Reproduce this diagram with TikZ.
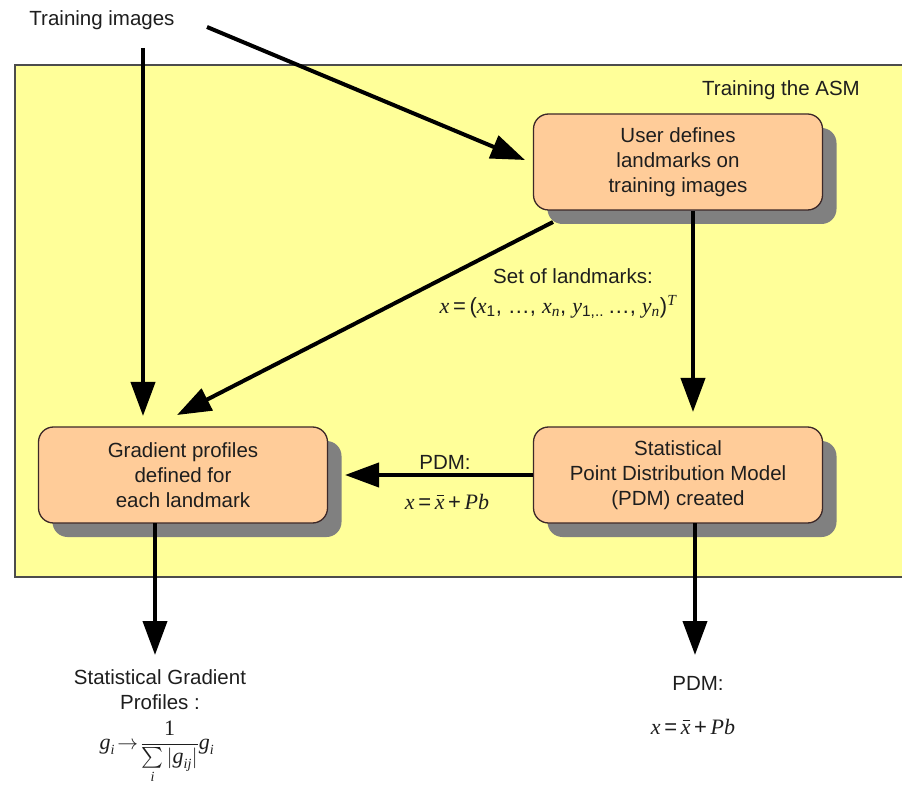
\documentclass[tikz,border=0pt]{standalone}
\usepackage{exscale}
\usepackage{fontspec}
\setmainfont{Liberation Sans}
\newfontfamily\mathserif{Liberation Serif}
\usetikzlibrary{arrows.meta,shadows}
\definecolor{panel}{RGB}{255,255,153}
\definecolor{peach}{RGB}{255,204,153}
\definecolor{shadowgray}{RGB}{128,128,128}
\definecolor{boxline}{RGB}{60,40,40}
\definecolor{ink}{RGB}{30,30,30}
\newcommand\mi[1]{{\mathserif\itshape #1}}
\newcommand\msub[1]{\mbox{\fontsize{14}{14}\selectfont\mi{#1}}}
% italic x with a bar drawn as a rule
\newcommand\meanx{\makebox[0pt][l]{\raisebox{0.6em}{\hspace{0.08em}\rule{0.36em}{0.05em}}}\mi{x}}
\begin{document}
\begin{tikzpicture}[x=1pt,y=-1pt,
  every node/.style={text=ink, font=\fontsize{20.5}{25}\selectfont},
  stepbox/.style={draw=boxline, line width=1.3pt, fill=peach, rounded corners=15pt,
    minimum width=289pt, minimum height=96pt, align=center, inner sep=0pt,
    drop shadow={shadow xshift=14pt, shadow yshift=-14pt, fill=shadowgray, opacity=1}},
  flow/.style={line width=4pt, -{Triangle[length=34pt,width=24pt]}},
  lbl/.style={align=center, inner sep=0pt},
  formula/.style={inner sep=0pt, font=\fontsize{22}{26}\selectfont}]
\useasboundingbox (0,0) rectangle (902,791);
\fill[white] (0,0) rectangle (902,791);

% training panel
\fill[panel] (15,65) rectangle (902,577);
\draw[line width=1.3pt, draw=black!70] (902,65) -- (15,65) -- (15,577) -- (902,577);
\node[lbl, anchor=east] (panelname) at (860,90) {Training the ASM};

% process boxes
\node[stepbox] (define) at (678,162) {User defines\\landmarks on\\training images};
\node[stepbox] (profiles) at (183,475) {Gradient profiles\\defined for\\each landmark};
\node[stepbox] (pdm) at (678,475) {Statistical\\Point Distribution Model\\(PDM) created};

% input label and free ends of connectors
\node[lbl] (images) at (102,20) {Training images};
\coordinate (imgdown) at (143,48);
\coordinate (imgright) at (207,27);
\coordinate (tipdefine) at (525,160);
\coordinate (tipprofiles) at (143,416);
\coordinate (fromdefine) at (553,222);
\coordinate (tipdiag) at (177,415);
\coordinate (outprofiles) at (155,655);
\coordinate (outpdm) at (695,655);

% connectors
\draw[flow] (imgright) -- (tipdefine);
\draw[flow] (imgdown) -- (tipprofiles);
\draw[flow] (fromdefine) -- (tipdiag);
\draw[flow] (693,211) -- (693,412);
\draw[flow] (pdm.west) -- (345,475);
\draw[flow] (155,523) -- (outprofiles);
\draw[flow] (695,523) -- (outpdm);

% connector labels
\node[lbl] (setlabel) at (573,276) {Set of landmarks:};
\node[formula] (setformula) at (558,307)
  {\mi{x}\,=\,(\mi{x}\textsubscript{1}, \dots, \mi{x}\textsubscript{\mi{n}}, \mi{y}\textsubscript{1,..}\,\dots, \mi{y}\textsubscript{\mi{n}})\textsuperscript{\mi{T}}};
\node[lbl] (pdmlabel) at (445,462) {PDM:};
\node[formula] (pdmformula) at (447,502) {\mi{x}\,=\,\meanx\,+\,\mi{Pb}};

% outputs
\node[lbl] (gradout) at (160,690) {Statistical Gradient\\Profiles :};
\node[formula] (gradformula) at (157,752)
  {$\mbox{\mi{g}}_{\msub{i}}\!\to\!\displaystyle\frac{\mbox{\mathserif 1}}{\sum\limits_{\msub{i}}|\mbox{\mi{g}}_{\msub{ij}}|}\mbox{\mi{g}}_{\msub{i}}$};
\node[lbl] (pdmout) at (698,683) {PDM:};
\node[formula] (pdmoutformula) at (693,727) {\mi{x}\,=\,\meanx\,+\,\mi{Pb}};
\end{tikzpicture}
\end{document}
